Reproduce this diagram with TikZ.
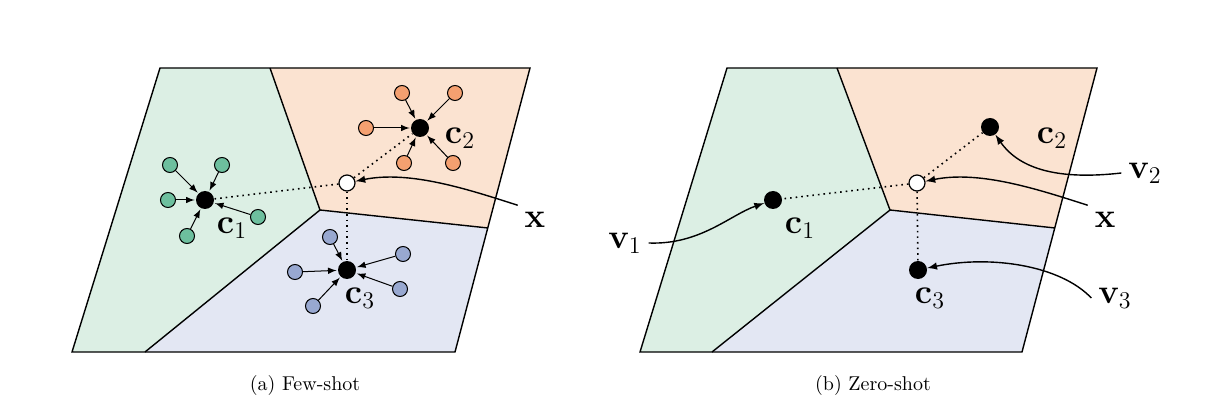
\documentclass[tikz,border=0pt]{standalone}
\usepackage{amsmath}
\definecolor{gr}{HTML}{DCEFE4}
\definecolor{orr}{HTML}{FBE3D1}
\definecolor{bl}{HTML}{E3E7F3}
\definecolor{gd}{HTML}{6DBF9E}
\definecolor{od}{HTML}{F4A070}
\definecolor{bd}{HTML}{98A8D0}
\tikzset{
 blk/.style={circle,fill=black,inner sep=0,minimum size=9pt},
 wht/.style={circle,draw=black,fill=white,inner sep=0,minimum size=8pt,line width=0.6pt},
 sat/.style={circle,draw=black,fill=#1,inner sep=0,minimum size=7.5pt,line width=0.5pt},
 sa/.style={-latex,line width=0.5pt,shorten >=0.5pt},
 dl/.style={dotted,line width=0.8pt},
 lab/.style={font=\fontsize{18}{21}\selectfont},
 ca/.style={-latex,line width=0.7pt},
 edge/.style={line width=0.7pt}
}
\begin{document}
\begin{tikzpicture}[x=0.5pt,y=-0.5pt]
\useasboundingbox (0,0) rectangle (1220,411);
\fill[gr] (160,68)--(270,68)--(320,210)--(145,352)--(72,352)--cycle;
\fill[orr] (270,68)--(530,68)--(488,228)--(320,210)--cycle;
\fill[bl] (320,210)--(488,228)--(455,352)--(145,352)--cycle;
\fill[gr] (727,68)--(837,68)--(890,210)--(712,352)--(640,352)--cycle;
\fill[orr] (837,68)--(1097,68)--(1055,228)--(890,210)--cycle;
\fill[bl] (890,210)--(1055,228)--(1022,352)--(712,352)--cycle;
\draw[edge] (160,68)--(530,68)--(455,352)--(72,352)--cycle;
\draw[edge] (270,68)--(320,210)--(145,352);
\draw[edge] (320,210)--(488,228);
\draw[edge] (727,68)--(1097,68)--(1022,352)--(640,352)--cycle;
\draw[edge] (837,68)--(890,210)--(712,352);
\draw[edge] (890,210)--(1055,228);
% left panel
\node[blk] (c1) at (205,200) {};
\node[blk] (c2) at (420,128) {};
\node[blk] (c3) at (347,270) {};
\node[wht] (x) at (347,183) {};
\draw[dl] (x)--(c1); \draw[dl] (x)--(c2); \draw[dl] (x)--(c3);
\foreach \p [count=\i] in {(170,165),(222,165),(168,200),(258,217),(187,236)}{
 \node[sat=gd] (g\i) at \p {}; \draw[sa] (g\i)--(c1);}
\foreach \p [count=\i] in {(402,93),(455,93),(366,128),(404,163),(453,163)}{
 \node[sat=od] (o\i) at \p {}; \draw[sa] (o\i)--(c2);}
\foreach \p [count=\i] in {(330,237),(403,254),(295,272),(400,289),(313,306)}{
 \node[sat=bd] (b\i) at \p {}; \draw[sa] (b\i)--(c3);}
\node[lab] (lc1) at (232,228) {$\mathbf{c}_1$};
\node[lab] (lc2) at (460,138) {$\mathbf{c}_2$};
\node[lab] (lc3) at (360,298) {$\mathbf{c}_3$};
\node[lab] (lx) at (535,220) {$\mathbf{x}$};
\draw[ca] (lx.north west) .. controls (470,190) and (410,170) .. (x);
% right panel
\node[blk] (d1) at (773,200) {};
\node[blk] (d2) at (990,127) {};
\node[blk] (d3) at (918,270) {};
\node[wht] (y) at (917,183) {};
\draw[dl] (y)--(d1); \draw[dl] (y)--(d2); \draw[dl] (y)--(d3);
\node[lab] (ld1) at (800,228) {$\mathbf{c}_1$};
\node[lab] (ld2) at (1052,138) {$\mathbf{c}_2$};
\node[lab] (ld3) at (930,298) {$\mathbf{c}_3$};
\node[lab] (ly) at (1105,220) {$\mathbf{x}$};
\draw[ca] (ly.north west) .. controls (1040,190) and (980,170) .. (y);
\node[lab] (v1) at (625,243) {$\mathbf{v}_1$};
\node[lab] (v2) at (1145,173) {$\mathbf{v}_2$};
\node[lab] (v3) at (1115,298) {$\mathbf{v}_3$};
\draw[ca] (v1.east) .. controls (700,245) and (730,215) .. (d1);
\draw[ca] (v2.west) .. controls (1060,180) and (1020,170) .. (d2);
\draw[ca] (v3.west) .. controls (1060,265) and (990,255) .. (d3);
\node[font=\fontsize{10}{12}\selectfont] (cap1) at (305,385) {(a) Few-shot};
\node[font=\fontsize{10}{12}\selectfont] (cap2) at (873,385) {(b) Zero-shot};
\end{tikzpicture}
\end{document}
